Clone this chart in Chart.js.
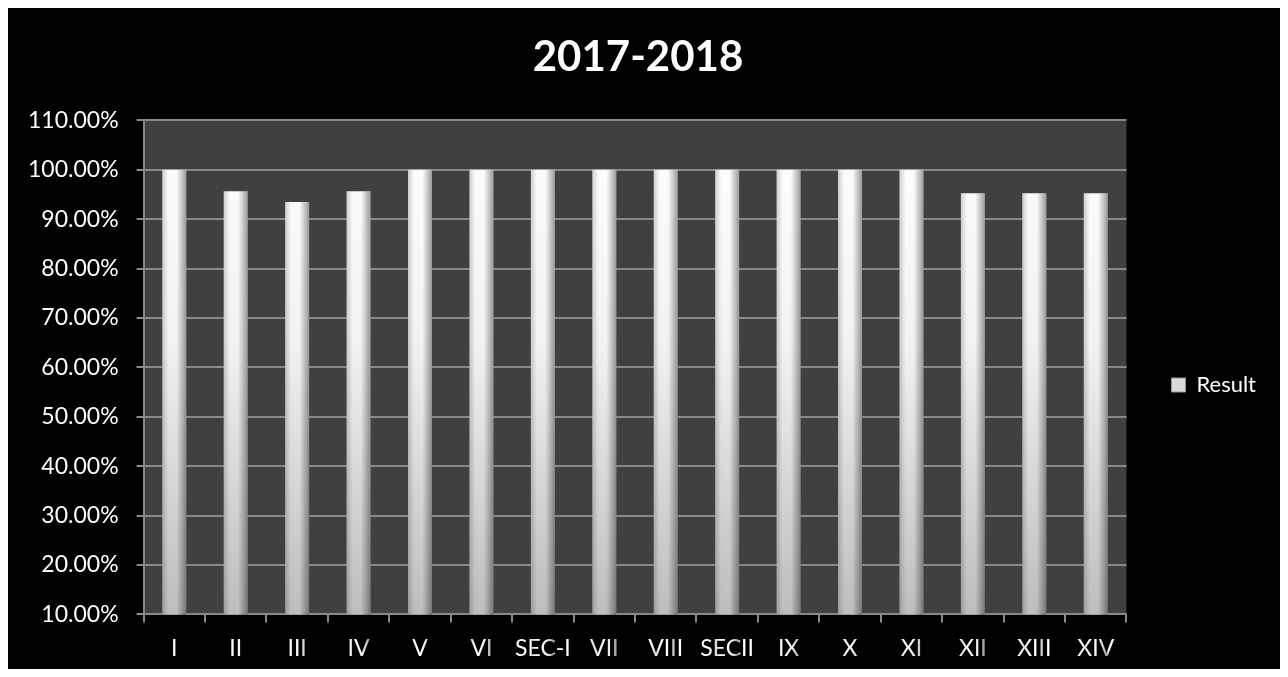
<!DOCTYPE html>
<html>
<head>
<meta charset="utf-8">
<script src="https://cdn.jsdelivr.net/npm/chart.js@4.4.1/dist/chart.umd.min.js"></script>
<style>
  body { margin: 8px; background: #fff; }
  #wrap { width: 1272px; height: 661px; background: #000; position: relative; }
</style>
</head>
<body>
<div id="wrap"><canvas id="c"></canvas></div>
<script>
const categories = ['I', 'II', 'III', 'IV', 'V', 'VI', 'SEC-I', 'VII', 'VIII', 'SECII', 'IX', 'X', 'XI', 'XII', 'XIII', 'XIV']
const results = [100, 95.65, 93.48, 95.65, 100, 100, 100, 100, 100, 100, 100, 100, 100, 95.24, 95.24, 95.24]
const yTicks = [10, 20, 30, 40, 50, 60, 70, 80, 90, 100, 110]

const FONT = 'Lato, "Open Sans", sans-serif'

// fond gris de la zone de tracé
const plotBg = {
  id: 'plotBg',
  beforeDraw(chart) {
    const { ctx, chartArea: a } = chart
    ctx.save()
    ctx.fillStyle = '#404040'
    ctx.fillRect(a.left, a.top, a.right - a.left, a.bottom - a.top)
    ctx.restore()
  }
}

// ombrage cylindrique sur chaque barre
const barShade = {
  id: 'barShade',
  afterDatasetsDraw(chart) {
    const ctx = chart.ctx
    chart.getDatasetMeta(0).data.forEach(el => {
      const { x, y, base, width } = el.getProps(['x', 'y', 'base', 'width'], true)
      const l = x - width / 2
      const g = ctx.createLinearGradient(l, 0, l + width, 0)
      g.addColorStop(0, 'rgba(0,0,0,0.18)')
      g.addColorStop(0.25, 'rgba(0,0,0,0)')
      g.addColorStop(0.6, 'rgba(0,0,0,0)')
      g.addColorStop(1, 'rgba(0,0,0,0.38)')
      ctx.save()
      ctx.fillStyle = g
      ctx.fillRect(l, y, width, base - y)
      ctx.restore()
    })
  }
}

const ctx = document.getElementById('c').getContext('2d')
new Chart(ctx, {
  type: 'bar',
  data: {
    labels: categories,
    datasets: [{
      label: 'Result',
      data: results,
      backgroundColor: function(context) {
        const a = context.chart.chartArea
        if (!a) return '#ffffff'
        const g = context.chart.ctx.createLinearGradient(0, a.top, 0, a.bottom)
        g.addColorStop(0, '#ffffff')
        g.addColorStop(0.45, '#f2f2f2')
        g.addColorStop(1, '#bdbdbd')
        return g
      },
      borderWidth: 0,
      barPercentage: 0.39,
      categoryPercentage: 1
    }]
  },
  plugins: [plotBg, barShade],
  options: {
    responsive: true,
    maintainAspectRatio: false,
    animation: false,
    layout: { padding: { left: 2, right: 14, top: 0, bottom: -5 } },
    plugins: {
      title: {
        display: true,
        text: '2017-2018',
        color: '#ffffff',
        font: { family: FONT, size: 42, weight: 'bold' },
        padding: { top: 24, bottom: 38 }
      },
      legend: {
        position: 'right',
        fullSize: false,
        title: { display: true, text: ' ', font: { size: 1 }, padding: { top: 34, bottom: 0 } },
        labels: {
          color: '#ffffff',
          font: { family: FONT, size: 22 },
          boxWidth: 14,
          boxHeight: 14,
          padding: 45,
          generateLabels: function(chart) {
            return [{ text: chart.data.datasets[0].label, fillStyle: '#d9d9d9', strokeStyle: '#9a9a9a', lineWidth: 1, fontColor: '#ffffff', datasetIndex: 0 }]
          }
        }
      },
      tooltip: { enabled: false }
    },
    scales: {
      x: {
        offset: true,
        grid: { offset: true, drawOnChartArea: false, color: '#888', lineWidth: 2, tickLength: 8 },
        border: { color: '#888', width: 2 },
        ticks: { color: '#ffffff', font: { family: FONT, size: 23 }, padding: 12, maxRotation: 0, autoSkip: false }
      },
      y: {
        min: yTicks[0],
        max: yTicks[yTicks.length - 1],
        afterBuildTicks: function(axis) { axis.ticks = yTicks.map(v => ({ value: v })) },
        grid: { color: '#888', lineWidth: 2, tickLength: 7 },
        border: { color: '#888', width: 2 },
        ticks: {
          color: '#ffffff',
          font: { family: FONT, size: 23 },
          padding: 18,
          callback: function(val) { return val.toFixed(2) + '%' }
        }
      }
    }
  }
})
</script>
</body>
</html>
